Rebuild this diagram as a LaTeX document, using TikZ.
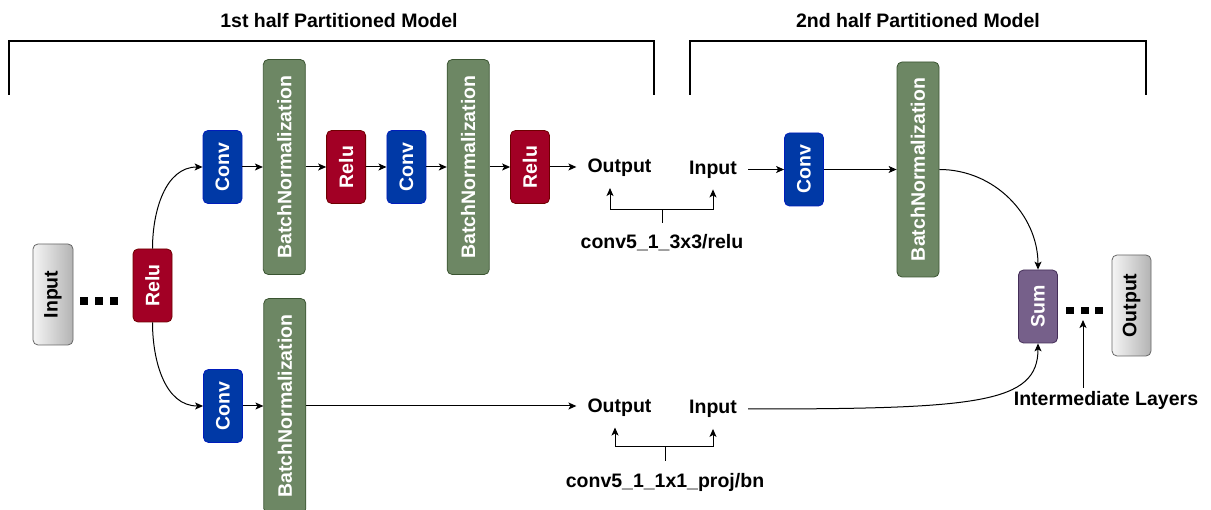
\documentclass[tikz,border=0pt]{standalone}
\usepackage{fontspec}
\setmainfont{Liberation Sans}
\usetikzlibrary{arrows.meta,chains,positioning}
\definecolor{convfill}{HTML}{0039A6}
\definecolor{convline}{HTML}{001DBC}
\definecolor{relufill}{HTML}{A20025}
\definecolor{reluline}{HTML}{6F0000}
\definecolor{bnfill}{HTML}{6D8764}
\definecolor{bnline}{HTML}{3A5431}
\definecolor{sumfill}{HTML}{76608A}
\definecolor{sumline}{HTML}{432D57}
\definecolor{iofillA}{HTML}{F5F5F5}
\definecolor{iofillB}{HTML}{B3B3B3}
\definecolor{ioline}{HTML}{666666}
\newcommand{\bigbf}{\fontsize{19.5}{23}\selectfont\bfseries}
\newcommand{\vt}[1]{\rotatebox{90}{#1}}

\begin{document}
\begin{tikzpicture}[
x=1pt, y=-1pt,
node distance=20.5pt,
 start chain = top going right,
    B/.style = {rectangle, rounded corners=5pt, draw, line width=0.8pt,% boxes of layers
                minimum width=39pt, minimum height=73pt,
                inner sep=0pt, text=white, font=\bigbf},
    C/.style = {B, fill=convfill, draw=convline},
    R/.style = {B, fill=relufill, draw=reluline},
    N/.style = {B, fill=bnfill, draw=bnline,
                minimum width=42pt, minimum height=215pt},
    S/.style = {B, fill=sumfill, draw=sumline},
    G/.style = {B, left color=iofillA, right color=iofillB, draw=ioline,
                text=black, minimum width=40pt, minimum height=101pt},
    T/.style = {font=\bigbf, inner sep=11pt},% split point texts
    L/.style = {font=\bigbf, inner sep=12pt},
  arr/.style = {-{Stealth[length=8pt,width=7pt,inset=2pt]}, line width=1pt},
                        ]
\useasboundingbox (0,0) rectangle (1211,510);
% titles and brackets
\node[font=\bigbf] (ttl1) at (339,21) {1st half Partitioned Model};
\node[font=\bigbf] (ttl2) at (918,21) {2nd half Partitioned Model};
\draw[line width=1.3pt] (9,95) |- (654,41) -- (654,95);
\draw[line width=1.3pt] (690,95) |- (1146,41) -- (1146,95);
% input side
\node[G] (inp) at (53,294.5) {\vt{Input}};
\foreach \i in {0,1,2}
    \fill (80+\i*15,297) rectangle ++(7.5,8);
\node[R] (relu1) at (152.5,285.5) {\vt{Relu}};
% main branch
\node[C, on chain] at (222.5,167) {\vt{Conv}};
\foreach \sty/\nm in {N/BatchNormalization,R/Relu,C/Conv,N/BatchNormalization,R/Relu}% <-- layers of the branch
    \node[\sty, on chain, join=by arr] {\vt{\nm}};
% shortcut branch
\begin{scope}[start chain = bot going right]
\node[C, on chain] at (223,406) {\vt{Conv}};
\node[N, on chain, join=by arr] {\vt{BatchNormalization}};
\end{scope}
\draw[arr] (relu1.north) to[out=90,in=180] (top-1.west);
\draw[arr] (relu1.south) to[out=-90,in=180] (bot-1.west);
% split points
\node[T] (out1) at (619.5,168) {Output};
\node[T] (in1) at (713,169.5) {Input};
\node[T] (out2) at (619.5,407.5) {Output};
\node[T] (in2) at (713,409) {Input};
\node[L] (lab1) at (662,243) {conv5\_1\_3x3/relu};
\node[L] (lab2) at (665,482) {conv5\_1\_1x1\_proj/bn};
\coordinate (f1) at ([yshift=13pt]lab1.north);
\coordinate (f2) at ([yshift=14pt]lab2.north);
\draw[line width=1pt] (lab1.north) -- (f1);
\draw[arr] (f1) -| ([xshift=-9.5pt]out1.south);
\draw[arr] (f1) -| (in1.south);
\draw[line width=1pt] (lab2.north) -- (f2);
\draw[arr] (f2) -| ([xshift=-4.5pt]out2.south);
\draw[arr] (f2) -| (in2.south);
\draw[arr] (top-6) -- (top-6 -| out1.west);
\draw[arr] (bot-2) -- (bot-2 -| out2.west);
% second half
\node[C] (conv3) at (804,169.5) {\vt{Conv}};
\node[N] (bn3) at (918,169.5) {\vt{BatchNormalization}};
\node[S] (sum) at (1038,306.5) {\vt{Sum}};
\foreach \i in {0,1,2}
    \fill (1066+\i*14.5,307) rectangle ++(8,7.5);
\node[G, minimum width=39pt] (outp) at (1131.5,305.5) {\vt{Output}};
\draw[arr] (in1) -- (conv3);
\draw[arr] (conv3) -- (bn3);
\draw[arr] (bn3.east) to[out=0,in=90] (sum.north);
\draw[arr] (in2.east) to[out=0,in=-90,out distance=230pt,in distance=60pt] (sum.south);
\node[font=\bigbf, inner sep=3pt] (lab3) at (1106,400) {Intermediate Layers};
\coordinate (dots) at (1083,320);
\draw[arr] (lab3.north -| dots) -- (dots);
\end{tikzpicture}
\end{document}
